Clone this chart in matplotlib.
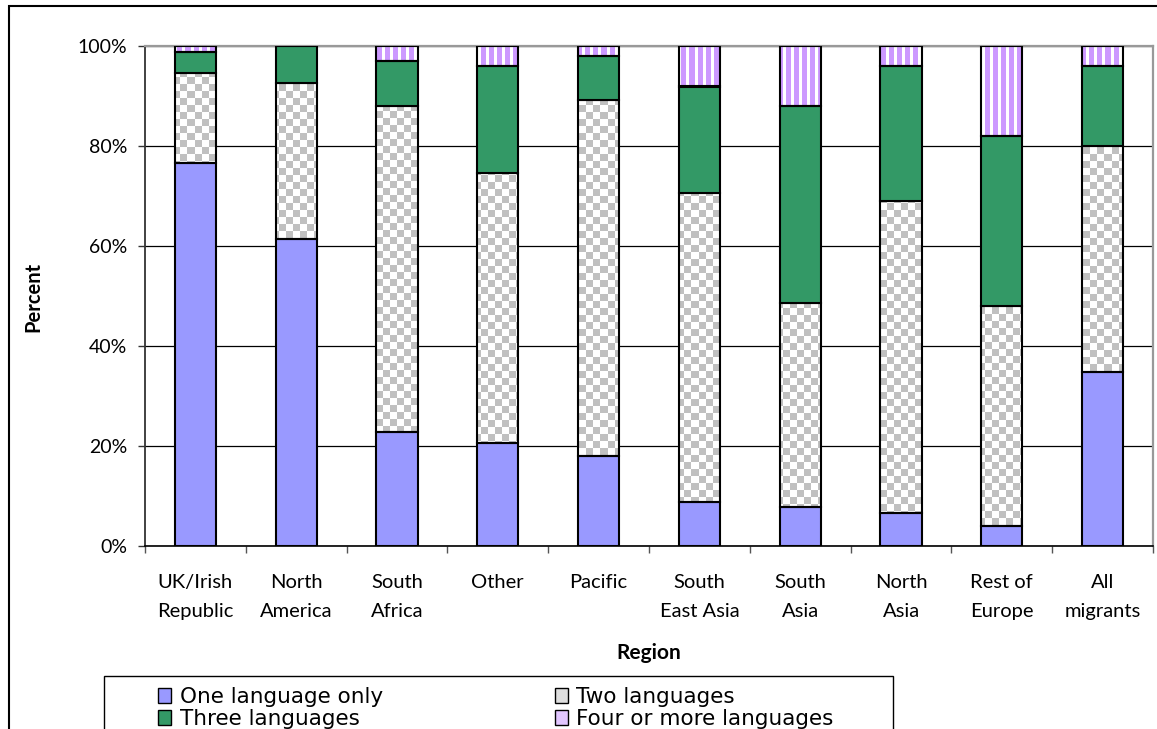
import numpy as np
import matplotlib
matplotlib.use("Agg")
import matplotlib.pyplot as plt
from matplotlib.patches import Patch, Rectangle
from matplotlib.ticker import PercentFormatter

# share of migrants by number of languages spoken, per region of origin (%)
REGIONS = ["UK/Irish\nRepublic", "North\nAmerica", "South\nAfrica", "Other", "Pacific",
           "South\nEast Asia", "South\nAsia", "North\nAsia", "Rest of\nEurope", "All\nmigrants"]
ONE   = [76.7, 61.5, 22.9, 20.7, 18.0,  8.8,  7.9,  6.7,  4.0, 34.8]
TWO   = [18.0, 31.2, 65.1, 54.0, 71.2, 61.9, 40.8, 62.3, 44.0, 45.2]
THREE = [ 4.1,  7.3,  9.1, 21.3,  8.8, 21.2, 39.3, 27.0, 34.0, 16.0]
FOUR  = [ 1.2,  0.0,  2.9,  4.0,  2.0,  8.1, 12.0,  4.0, 18.0,  4.0]

SERIES = ["One language only", "Two languages", "Three languages", "Four or more languages"]
C_ONE    = "#9999FF"
C_THREE  = "#339966"
C_CHECK  = "#C0C0C0"
C_STRIPE = "#CC99FF"

plt.rcParams["font.family"] = ["Lato", "DejaVu Sans"]

W, H = 1157, 729
fig = plt.figure(figsize=(W / 100, H / 100), dpi=100)
ax = fig.add_axes([145 / W, 1 - 546 / H, 1008 / W, 500 / H])

x = np.arange(len(REGIONS))
bw = 0.41
one = np.array(ONE)
two = np.array(TWO)
three = np.array(THREE)
four = np.array(FOUR)

# textures (pixel sized, same size as the axes area)
yy, xx = np.mgrid[0:500, 0:1008]
white = np.array([1.0, 1.0, 1.0])
gray = np.array(matplotlib.colors.to_rgb(C_CHECK))
purple = np.array(matplotlib.colors.to_rgb(C_STRIPE))
checker = np.where((((xx // 7) + (yy // 7)) % 2 == 0)[..., None], gray, white)
stripes = np.where(((xx % 8) < 5)[..., None], purple, white)

kw = dict(width=bw, edgecolor="black", linewidth=1.5, zorder=3)
ax.bar(x, one, color=C_ONE, **kw)
bars_two = ax.bar(x, two, bottom=one, facecolor="none", **kw)
ax.bar(x, three, bottom=one + two, color=C_THREE, **kw)
bars_four = ax.bar(x, four, bottom=one + two + three, facecolor="none", **kw)

for bars, tex in [(bars_two, checker), (bars_four, stripes)]:
    for b in bars:
        im = ax.imshow(tex, extent=(-0.5, len(REGIONS) - 0.5, 0, 100), origin="lower",
                       aspect="auto", interpolation="nearest", zorder=2)
        im.set_clip_path(b)

ax.set_xlim(-0.5, len(REGIONS) - 0.5)
ax.set_ylim(0, 100)

ax.set_yticks(np.arange(0, 101, 20))
ax.yaxis.set_major_formatter(PercentFormatter(decimals=0))
ax.yaxis.grid(True, color="black", linewidth=0.9)
ax.set_axisbelow(True)
ax.tick_params(axis="y", direction="out", length=5, width=1, labelsize=14, pad=8, colors="#333333",
               labelcolor="black")

ax.set_xticks(x)
ax.set_xticklabels(REGIONS, fontsize=14.5, linespacing=1.8)
ax.set_xticks(np.arange(-0.5, len(REGIONS), 1), minor=True)
ax.tick_params(axis="x", which="major", length=0, pad=20.5)
ax.tick_params(axis="x", which="minor", direction="out", length=5, width=1, colors="#555555")

ax.spines["left"].set_color("#333333")
ax.spines["left"].set_linewidth(1.3)
ax.spines["bottom"].set_color("black")
ax.spines["bottom"].set_linewidth(1.2)
for s in ["top", "right"]:
    ax.spines[s].set_color("#999999")
    ax.spines[s].set_linewidth(1.6)

fig.text(33 / W, 1 - 297 / H, "Percent", rotation=90, ha="center", va="center",
         fontsize=14.5, fontweight="bold")
fig.text(649 / W, 1 - 653 / H, "Region", ha="center", va="center",
         fontsize=15, fontweight="bold")

# outer frame and legend box (cut off at the bottom / right like the original)
fig.add_artist(Rectangle((9 / W, -0.1), 1.2, 1 - 6 / H + 0.1, transform=fig.transFigure,
                         fill=False, edgecolor="black", linewidth=1.5))
fig.add_artist(Rectangle((104 / W, -0.1), (893 - 104) / W, 1 - 676 / H + 0.1,
                         transform=fig.transFigure, fill=False, edgecolor="black", linewidth=1))

h_one = Patch(facecolor=C_ONE, edgecolor="black", label=SERIES[0])
h_two = Patch(facecolor="#dedede", edgecolor="black", label=SERIES[1])
h_three = Patch(facecolor=C_THREE, edgecolor="black", label=SERIES[2])
h_four = Patch(facecolor="#e2c6ff", edgecolor="black", label=SERIES[3])
fig.legend(handles=[h_one, h_three, h_two, h_four], ncol=2, loc="upper left",
           bbox_to_anchor=(158 / W, 1 - 687 / H), frameon=False,
           prop={"family": "DejaVu Sans", "size": 15.5}, handlelength=0.6, handleheight=0.7,
           handletextpad=0.4, labelspacing=0.08, columnspacing=8.0, borderpad=0, borderaxespad=0)

fig.savefig("out.png", dpi=100)
